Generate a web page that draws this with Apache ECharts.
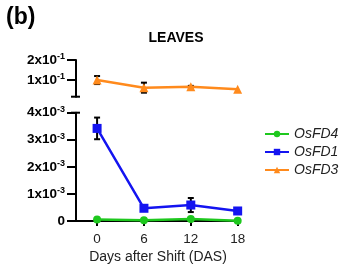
<!DOCTYPE html>
<html>
<head>
<meta charset="utf-8">
<script src="https://cdn.jsdelivr.net/npm/echarts@6/dist/echarts.min.js"></script>
<style>
  html, body { margin: 0; padding: 0; background: #fff; }
  #main { width: 341px; height: 265px; }
</style>
</head>
<body>
<div id="main"></div>
<script>
  // data
  const days = [0, 6, 12, 18];
  const osFD4 = [0.00006, 0.00003, 0.00007, 0.00001];
  const osFD1 = [0.00342, 0.00047, 0.00059, 0.00037];
  const osFD3 = [0.100, 0.062, 0.067, 0.054];
  const errFD1 = [0.0004, 0, 0.00026, 0];
  const errFD3 = [0.02, 0.025, 0.004, 0];
  const upperTicks = [0.1, 0.2];
  const lowerTicks = [0, 0.001, 0.002, 0.003, 0.004];

  const xMin = -2.7, xMax = 18.3;
  const upMin = 0.017, upMax = 0.2;
  const lowMin = 0, lowMax = 0.004;
  const font = 'Liberation Sans';

  const pairs = (ys) => days.map((d, i) => [d, ys[i]]);
  const errData = (ys, es) => days.map((d, i) => [d, ys[i] - es[i], ys[i] + es[i]]).filter((v, i) => es[i] > 0);

  function sciLabel(v, exp) {
    if (v === 0) return '{b|0}';
    const m = Math.round(v / Math.pow(10, exp));
    return '{b|' + m + 'x10}{s|' + exp + '}';
  }
  const rich = {
    b: {fontFamily: font, fontWeight: 'bold', fontSize: 13.5, color: '#000'},
    s: {fontFamily: font, fontWeight: 'bold', fontSize: 9, color: '#000', padding: [0, 0, 7, 0]}
  };

  function errorItem(params, api) {
    const x = api.value(0);
    const lo = api.coord([x, api.value(1)]);
    const hi = api.coord([x, api.value(2)]);
    const w = 3;
    const style = {stroke: '#000', lineWidth: 2};
    return {
      type: 'group',
      children: [
        {type: 'line', shape: {x1: lo[0], y1: lo[1], x2: hi[0], y2: hi[1]}, style: style},
        {type: 'line', shape: {x1: lo[0] - w, y1: lo[1], x2: lo[0] + w, y2: lo[1]}, style: style},
        {type: 'line', shape: {x1: hi[0] - w, y1: hi[1], x2: hi[0] + w, y2: hi[1]}, style: style}
      ]
    };
  }

  // small cap marks at the broken ends of the y axis
  function capItem(params, api) {
    const p = api.coord([api.value(0), api.value(1)]);
    return {
      type: 'line',
      shape: {x1: p[0] - 5, y1: p[1], x2: p[0] + 4, y2: p[1]},
      style: {stroke: '#000', lineWidth: 2}
    };
  }

  const chart = echarts.init(document.getElementById('main'));
  chart.setOption({
    animation: false,
    graphic: [
      {type: 'text', left: 6, top: 6, style: {text: '(b)', font: 'bold 23px ' + font, fill: '#000'}}
    ],
    title: {
      text: 'LEAVES', left: 171, top: 26, textAlign: 'center',
      textStyle: {fontFamily: font, fontWeight: 'bold', fontSize: 14, color: '#000'}
    },
    legend: {
      data: ['OsFD4', 'OsFD1', 'OsFD3'],
      orient: 'vertical', left: 259, top: 122,
      itemWidth: 24, itemHeight: 8, itemGap: 4,
      textStyle: {fontFamily: font, fontStyle: 'italic', fontSize: 14, color: '#222'}
    },
    grid: [
      {left: 76, top: 60, width: 164, height: 36.7},
      {left: 76, top: 112.7, width: 164, height: 108.3}
    ],
    xAxis: [
      {gridIndex: 0, type: 'value', min: xMin, max: xMax, show: false},
      {
        gridIndex: 1, type: 'value', min: xMin, max: xMax,
        name: 'Days after Shift (DAS)', nameLocation: 'middle', nameGap: 29,
        nameTextStyle: {fontFamily: font, fontSize: 14, color: '#222'},
        splitLine: {show: false},
        axisLine: {show: true, onZero: false, lineStyle: {color: '#000', width: 2}},
        axisTick: {show: true, customValues: days, length: 5, lineStyle: {color: '#000', width: 2}},
        axisLabel: {customValues: days, fontFamily: font, fontSize: 13.5, color: '#222', margin: 11}
      }
    ],
    yAxis: [
      {
        gridIndex: 0, type: 'value', min: upMin, max: upMax,
        splitLine: {show: false},
        axisLine: {show: true, onZero: false, lineStyle: {color: '#000', width: 2}},
        axisTick: {show: true, customValues: upperTicks, length: 9, lineStyle: {color: '#000', width: 2}},
        axisLabel: {customValues: upperTicks, margin: 11, formatter: v => sciLabel(v, -1), rich: rich}
      },
      {
        gridIndex: 1, type: 'value', min: lowMin, max: lowMax,
        splitLine: {show: false},
        axisLine: {show: true, onZero: false, lineStyle: {color: '#000', width: 2}},
        axisTick: {show: true, customValues: lowerTicks, length: 9, lineStyle: {color: '#000', width: 2}},
        axisLabel: {customValues: lowerTicks, margin: 11, formatter: v => sciLabel(v, -3), rich: rich}
      }
    ],
    series: [
      {
        type: 'custom', xAxisIndex: 0, yAxisIndex: 0, silent: true, z: 1,
        renderItem: capItem, data: [[xMin, upMin]]
      },
      {
        type: 'custom', xAxisIndex: 1, yAxisIndex: 1, silent: true, z: 1,
        renderItem: capItem, data: [[xMin, lowMax]]
      },
      {
        type: 'custom', xAxisIndex: 0, yAxisIndex: 0, silent: true, z: 1,
        renderItem: errorItem, data: errData(osFD3, errFD3)
      },
      {
        type: 'custom', xAxisIndex: 1, yAxisIndex: 1, silent: true, z: 1,
        renderItem: errorItem, data: errData(osFD1, errFD1)
      },
      {
        name: 'OsFD4', type: 'line', xAxisIndex: 1, yAxisIndex: 1, z: 3,
        data: pairs(osFD4), symbol: 'circle', symbolSize: 8,
        itemStyle: {color: '#1ec81e'}, lineStyle: {color: '#1ec81e', width: 2.5}
      },
      {
        name: 'OsFD1', type: 'line', xAxisIndex: 1, yAxisIndex: 1, z: 2,
        data: pairs(osFD1), symbol: 'rect', symbolSize: 9,
        itemStyle: {color: '#1414f0'}, lineStyle: {color: '#1414f0', width: 2.5}
      },
      {
        name: 'OsFD3', type: 'line', xAxisIndex: 0, yAxisIndex: 0, z: 2,
        data: pairs(osFD3), symbol: 'triangle', symbolSize: 9,
        itemStyle: {color: '#ff8a1c'}, lineStyle: {color: '#ff8a1c', width: 2.5}
      }
    ]
  });
</script>
</body>
</html>
